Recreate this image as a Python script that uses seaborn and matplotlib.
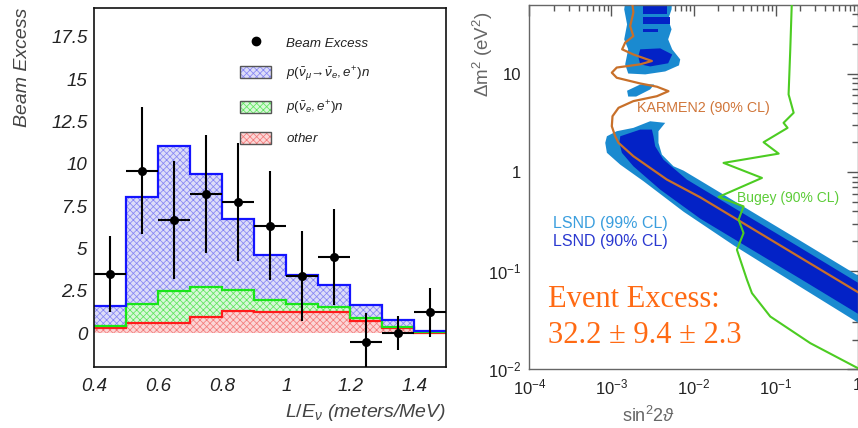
import numpy as np
import pandas as pd
import matplotlib
matplotlib.use("Agg")
import matplotlib.pyplot as plt
import seaborn as sns
from matplotlib.patches import Patch
from matplotlib.lines import Line2D
from matplotlib.legend_handler import HandlerTuple
from matplotlib.ticker import MultipleLocator, LogLocator, FuncFormatter, NullFormatter

# ---------------- L/E spectrum (left panel) ----------------
bin_edges = [0.4, 0.5, 0.6, 0.7, 0.8, 0.9, 1.0, 1.1, 1.2, 1.3, 1.4, 1.5]
bin_centers = [0.45, 0.55, 0.65, 0.75, 0.85, 0.95, 1.05, 1.15, 1.25, 1.35, 1.45]
other_bkg = [0.29, 0.60, 0.60, 0.98, 1.28, 1.24, 1.23, 1.23, 0.71, 0.29, 0.03]
nue_bkg = [0.15, 1.13, 1.91, 1.72, 1.28, 0.74, 0.47, 0.29, 0.17, 0.10, 0.02]
osc_signal = [1.15, 6.33, 8.52, 6.70, 4.16, 2.63, 1.73, 1.35, 0.80, 0.36, 0.07]
beam_excess = [3.48, 9.60, 6.69, 8.22, 7.75, 6.35, 3.38, 4.50, -0.55, 0.00, 1.22]
beam_excess_err = [2.26, 3.75, 3.48, 3.50, 3.47, 3.20, 2.65, 2.85, 1.73, 1.00, 1.42]

layer_labels = [r"$\mathit{other}$",
                r"$\mathit{p(\bar{\nu}_{e}, e^{+})n}$",
                r"$\mathit{p(\bar{\nu}_{\mu}\!\rightarrow\!\bar{\nu}_{e}, e^{+})n}$"]

# ---------------- oscillation parameter plane (right panel) ----------------
# LSND 99% CL, main band
lsnd99_band_s2 = [0.00452, 0.00296, 0.00185, 0.00116, 0.00088, 0.00084, 0.00088, 0.00128,
                  0.00245, 0.00755, 0.0308, 0.200, 1.2, 1.2, 0.200, 0.0491, 0.01208,
                  0.00755, 0.0057, 0.00412, 0.00374, 0.00374]
lsnd99_band_dm2 = [3.16, 3.28, 2.81, 2.60, 2.31, 1.98, 1.57, 1.19,
                   0.81, 0.397, 0.181, 0.0685, 0.0272, 0.0817, 0.2014, 0.406, 0.820,
                   1.036, 1.146, 1.506, 1.98, 2.60]
# LSND 99% CL, high-mass region and island
lsnd99_high_s2 = [0.00151, 0.0055, 0.0054, 0.00491, 0.0054, 0.00491, 0.0055, 0.00689, 0.00665,
                  0.00452, 0.00258, 0.0016, 0.00147, 0.0016, 0.00143, 0.00155, 0.00143]
lsnd99_high_dm2 = [60.0, 60.0, 44.8, 35.5, 28.1, 22.2, 17.6, 13.9, 12.1,
                   10.5, 9.8, 10.0, 12.4, 17.6, 22.2, 31.5, 44.8]
lsnd99_island_s2 = [0.00224, 0.00332, 0.00296, 0.0020, 0.0016, 0.00155]
lsnd99_island_dm2 = [7.74, 7.74, 6.89, 5.84, 5.84, 6.69]
# LSND 90% CL, main band
lsnd90_band_s2 = [0.00128, 0.00224, 0.00311, 0.00325, 0.00341, 0.0043, 0.00832, 0.01208,
                  0.0491, 0.200, 1.2, 1.2, 0.200, 0.0491, 0.01208, 0.00393, 0.00185,
                  0.00134, 0.00125]
lsnd90_band_dm2 = [2.31, 2.70, 2.70, 2.31, 1.83, 1.34, 0.839, 0.696,
                   0.345, 0.171, 0.0692, 0.0335, 0.0828, 0.167, 0.337, 0.664, 1.146,
                   1.57, 1.98]
# LSND 90% CL, high-mass patches
lsnd90_blob_s2 = [0.00224, 0.00393, 0.0055, 0.00491, 0.00296, 0.00224, 0.00212]
lsnd90_blob_dm2 = [17.6, 18.0, 15.6, 12.7, 11.8, 12.4, 14.9]
lsnd90_stripes = [  # (s2_lo, s2_hi, dm2_lo, dm2_hi)
    (0.00244, 0.00478, 39.9, 48.1),
    (0.00244, 0.0052, 31.5, 37.2),
    (0.00244, 0.00372, 26.2, 28.1),
]
# KARMEN2 90% CL exclusion curve
karmen_s2 = [0.00177, 0.00185, 0.00169, 0.00185, 0.00147, 0.00135, 0.00185, 0.00311, 0.00224,
             0.00116, 0.00101, 0.00116, 0.00224, 0.00358, 0.00495, 0.00358, 0.00185, 0.00122,
             0.00103, 0.00101, 0.00111, 0.00122, 0.00185, 0.00474, 0.01208, 0.0491, 0.200, 1.2]
karmen_dm2 = [56.6, 41.5, 30.3, 24.0, 20.6, 17.6, 15.6, 13.4, 12.4,
              11.5, 10.2, 9.06, 7.93, 7.35, 6.62, 5.89, 5.25, 4.49,
              3.69, 2.92, 2.31, 1.98, 1.45, 0.84, 0.555, 0.275, 0.136, 0.0555]
# Bugey 90% CL exclusion curve
bugey_s2 = [0.1585, 0.151, 0.144, 0.166, 0.125, 0.140, 0.0714, 0.109, 0.0232, 0.0682,
            0.0202, 0.0407, 0.0354, 0.0407, 0.0338, 0.0448, 0.0515, 0.0861, 0.265, 1.2]
bugey_dm2 = [60.0, 17.6, 6.14, 4.0, 3.16, 2.81, 2.01, 1.54, 1.24, 0.873,
             0.56, 0.449, 0.329, 0.241, 0.163, 0.0809, 0.0592, 0.0343, 0.0184, 0.0095]

event_excess, stat_err, syst_err = 32.2, 9.4, 2.3

# ---------------- style ----------------
sns.set_theme(style="white")
plt.rcParams["font.family"] = ["Liberation Sans", "DejaVu Sans"]
plt.rcParams["mathtext.fontset"] = "custom"
plt.rcParams["mathtext.rm"] = "Liberation Sans"
plt.rcParams["mathtext.it"] = "Liberation Sans:italic"
plt.rcParams["mathtext.bf"] = "Liberation Sans:bold"
plt.rcParams["hatch.linewidth"] = 0.55

fig = plt.figure(figsize=(8.58, 4.28), dpi=100)
fig.patch.set_facecolor("white")
ax1 = fig.add_axes([0.110, 0.1425, 0.410, 0.8388])
ax2 = fig.add_axes([0.617, 0.1372, 0.3826, 0.852])

# ---------------- left panel ----------------
edges = np.array(bin_edges)
layers = np.array([other_bkg, nue_bkg, osc_signal])
tops = np.cumsum(layers, axis=0)
bases = [np.zeros(len(bin_centers)), tops[0], tops[1]]
face_cols = ["#fbd6d6", "#d8f7d8", "#dcdcf8"]
hatch_cols = ["#f47a7a", "#5ee65e", "#8686f4"]
line_cols = ["#ff1a1a", "#19e619", "#1414ff"]

for top, base, fc, hc in zip(tops, bases, face_cols, hatch_cols):
    ax1.stairs(top, edges, baseline=base, fill=True, facecolor=fc,
               edgecolor=hc, hatch="xxxxx", linewidth=0, zorder=1)
for top, lc in zip(tops, line_cols):
    ax1.stairs(top, edges, baseline=None, color=lc, linewidth=1.6, zorder=2)

half_width = np.diff(edges) / 2
ax1.errorbar(bin_centers, beam_excess, xerr=half_width, yerr=beam_excess_err,
             fmt="none", ecolor="black", elinewidth=1.5, capsize=0, zorder=4)
points = pd.DataFrame({"LE": bin_centers, "excess": beam_excess})
sns.scatterplot(data=points, x="LE", y="excess", color="black", s=42,
                edgecolor="black", linewidth=0, ax=ax1, zorder=5)

ax1.set_xlim(0.4, 1.5)
ax1.set_ylim(-2.0, 19.2)
tick_kw = dict(fontstyle="italic", fontsize=13.5, color="#222222")
ax1.set_xticks([0.4, 0.6, 0.8, 1.0, 1.2, 1.4], ["0.4", "0.6", "0.8", "1", "1.2", "1.4"], **tick_kw)
ax1.set_yticks([0, 2.5, 5, 7.5, 10, 12.5, 15, 17.5],
               ["0", "2.5", "5", "7.5", "10", "12.5", "15", "17.5"], **tick_kw)
ax1.xaxis.set_minor_locator(MultipleLocator(0.05))
ax1.yaxis.set_minor_locator(MultipleLocator(0.5))
ax1.tick_params(which="both", direction="in", top=False, right=False, color="#222222", width=1.0)
ax1.tick_params(which="major", length=7)
ax1.tick_params(axis="x", which="major", pad=8)
ax1.tick_params(axis="y", which="major", pad=5)
ax1.tick_params(which="minor", length=3.5)
for sp in ax1.spines.values():
    sp.set_color("#111111")
    sp.set_linewidth(1.2)

ax1.set_xlabel(r"$\mathit{L/E_{\nu}}$ (meters/MeV)", fontstyle="italic", fontsize=14,
               color="#444444", ha="right")
ax1.xaxis.set_label_coords(1.0, -0.097)
ax1.set_ylabel("Beam Excess", fontstyle="italic", fontsize=14, color="#444444")
ax1.yaxis.set_label_coords(-0.18, 0.835)

handles = [Line2D([], [], marker="o", color="black", linestyle="none", markersize=6)]
for fc, hc in zip(face_cols[::-1], hatch_cols[::-1]):
    swatch = Patch(facecolor=fc, edgecolor=hc, hatch="xxxxx", linewidth=0)
    frame = Patch(facecolor="none", edgecolor="#555555", linewidth=1.0)
    handles.append((swatch, frame))
labels = ["Beam Excess"] + layer_labels[::-1]
leg = ax1.legend(handles, labels, loc="upper left", bbox_to_anchor=(0.396, 0.94),
                 frameon=False, fontsize=9.6, handlelength=2.3, handleheight=1.0,
                 handletextpad=1.1, labelspacing=1.12, borderpad=0,
                 handler_map={tuple: HandlerTuple(ndivide=1, pad=0)})
for t in leg.get_texts():
    t.set_fontstyle("italic")
    t.set_color("#222222")

# ---------------- right panel ----------------
ax2.set_xscale("log")
ax2.set_yscale("log")
c99, c90 = "#1a8ad0", "#0322c6"
ax2.fill(lsnd99_band_s2, lsnd99_band_dm2, color=c99, lw=0, zorder=1)
ax2.fill(lsnd99_high_s2, lsnd99_high_dm2, color=c99, lw=0, zorder=1)
ax2.fill(lsnd99_island_s2, lsnd99_island_dm2, color=c99, lw=0, zorder=1)
ax2.fill(lsnd90_band_s2, lsnd90_band_dm2, color=c90, lw=0, zorder=2)
ax2.fill(lsnd90_blob_s2, lsnd90_blob_dm2, color=c90, lw=0, zorder=2)
for s_lo, s_hi, d_lo, d_hi in lsnd90_stripes:
    ax2.fill([s_lo, s_hi, s_hi, s_lo], [d_lo, d_lo, d_hi, d_hi], color=c90, lw=0, zorder=2)

sns.lineplot(x=karmen_s2, y=karmen_dm2, sort=False, estimator=None, color="#c8702a",
             linewidth=1.6, ax=ax2, zorder=3)
sns.lineplot(x=bugey_s2, y=bugey_dm2, sort=False, estimator=None, color="#4ccc22",
             linewidth=1.5, ax=ax2, zorder=3)

ax2.set_xlim(1e-4, 1.0)
ax2.set_ylim(1e-2, 50)


def pow_label(v, pos):
    e = int(round(np.log10(v)))
    if e == 0:
        return "1"
    if e == 1:
        return "10"
    return rf"$10^{{{e}}}$"


ax2.xaxis.set_major_locator(LogLocator(base=10, numticks=10))
ax2.yaxis.set_major_locator(LogLocator(base=10, numticks=10))
ax2.xaxis.set_minor_locator(LogLocator(base=10, subs=np.arange(2, 10), numticks=20))
ax2.yaxis.set_minor_locator(LogLocator(base=10, subs=np.arange(2, 10), numticks=20))
ax2.xaxis.set_major_formatter(FuncFormatter(pow_label))
ax2.yaxis.set_major_formatter(FuncFormatter(pow_label))
ax2.xaxis.set_minor_formatter(NullFormatter())
ax2.yaxis.set_minor_formatter(NullFormatter())
ax2.tick_params(which="both", direction="in", top=True, right=True, color="#555555",
                labelsize=12, labelcolor="#222222", width=1.0)
ax2.tick_params(which="major", length=8, pad=6)
ax2.tick_params(which="minor", length=4)
for sp in ax2.spines.values():
    sp.set_color("#666666")
    sp.set_linewidth(1.0)

ax2.set_xlabel(r"sin$^2$2$\vartheta$", fontsize=13, color="#666666")
ax2.xaxis.set_label_coords(0.362, -0.1)
ax2.set_ylabel(r"$\Delta$m$^2$ (eV$^2$)", fontsize=13.5, color="#666666")
ax2.yaxis.set_label_coords(-0.105, 0.865)

ax2.text(0.327, 0.716, "KARMEN2 (90% CL)", transform=ax2.transAxes, color="#d0763a",
         fontsize=10.3, va="center", ha="left")
ax2.text(0.632, 0.469, "Bugey (90% CL)", transform=ax2.transAxes, color="#5ccc38",
         fontsize=10, va="center", ha="left")
ax2.text(0.073, 0.40, "LSND (99% CL)", transform=ax2.transAxes, color="#3a9ede",
         fontsize=11.5, va="center", ha="left")
ax2.text(0.073, 0.35, "LSND (90% CL)", transform=ax2.transAxes, color="#2a38d0",
         fontsize=11.5, va="center", ha="left")
ax2.text(0.058, 0.19, "Event Excess:", transform=ax2.transAxes, color="#ff6a13",
         fontfamily="Liberation Serif", fontsize=22, va="center", ha="left")
ax2.text(0.058, 0.094, f"{event_excess} \u00b1 {stat_err} \u00b1 {syst_err}",
         transform=ax2.transAxes, color="#ff6a13", fontfamily="Liberation Serif",
         fontsize=22, va="center", ha="left")

fig.savefig("out.png", dpi=100)
